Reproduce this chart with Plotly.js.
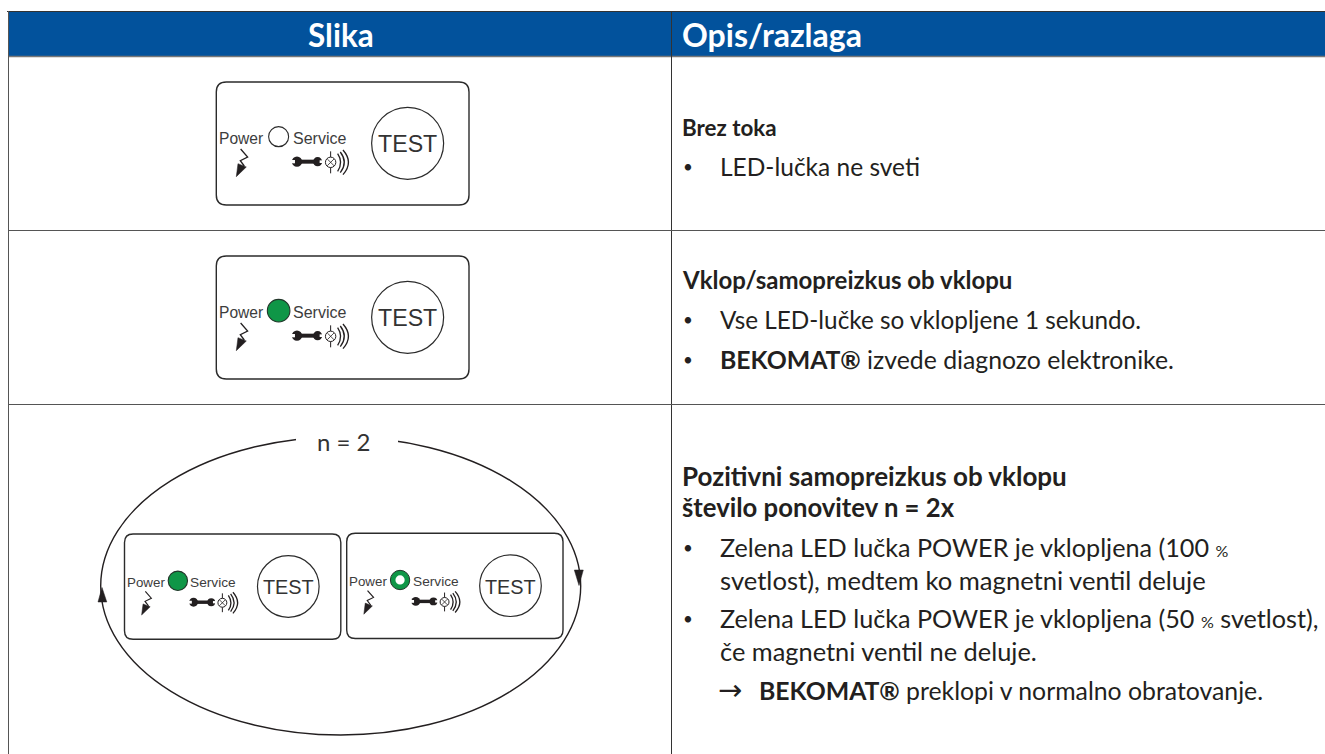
<!DOCTYPE html>
<html><head><meta charset="utf-8">
<script src="https://cdn.plot.ly/plotly-3.0.1.min.js"></script>
<style>html,body{margin:0;padding:0;background:#fff}#c{width:1325px;height:754px}</style>
</head><body><div id="c"></div>
<script>
const headerLabels = ['Slika', 'Opis/razlaga'];
const rowTitles = ['Brez toka', 'Vklop/samopreizkus ob vklopu', 'Pozitivni samopreizkus ob vklopu', 'število ponovitev n = 2x'];
const bulletLines = [
  'LED-lučka ne sveti',
  'Vse LED-lučke so vklopljene 1 sekundo.',
  '<b>BEKOMAT®</b> izvede diagnozo elektronike.',
  'Zelena LED lučka POWER je vklopljena (100 <span style="font-size:16px">%</span>',
  'svetlost), medtem ko magnetni ventil deluje',
  'Zelena LED lučka POWER je vklopljena (50 <span style="font-size:16px">%</span> svetlost),',
  'če magnetni ventil ne deluje.',
  '<b>BEKOMAT®</b> preklopi v normalno obratovanje.'
];
const panelLabels = ['Power', 'Service', 'TEST'];
const ledStates = ['off', 'on', 'on', 'half'];
const repeatLabel = 'n = 2';

const INK = '#231f20', BLUE = '#02529c', GREEN = '#0f9647', RULE = '#555555';
const BODY = 'Lato, "Noto Sans", sans-serif', DIAG = '"Liberation Sans", Arial, sans-serif';
const shapes = [], annotations = [];

function text(t, x, y, size, color, family, anchor) {
  annotations.push({text: t, x, y, xref: 'x', yref: 'y', showarrow: false, xanchor: anchor || 'left', yanchor: 'middle',
    borderpad: 0, borderwidth: 0, font: {size, color: color || INK, family: family || BODY}, align: 'left'});
}
function rect(x0, y0, x1, y1, fill) {
  shapes.push({type: 'rect', xref: 'x', yref: 'y', x0, y0, x1, y1, fillcolor: fill, line: {width: 0}});
}
function seg(x0, y0, x1, y1, color, w) {
  shapes.push({type: 'line', xref: 'x', yref: 'y', x0, y0, x1, y1, line: {color: color || RULE, width: w || 1}});
}
function circ(cx, cy, r, fill, color, w) {
  shapes.push({type: 'circle', xref: 'x', yref: 'y', x0: cx - r, x1: cx + r, y0: cy - r, y1: cy + r,
    fillcolor: fill, line: {color: color || INK, width: w === undefined ? 1 : w}});
}
function path(d, fill, color, w) {
  shapes.push({type: 'path', xref: 'x', yref: 'y', path: d, fillcolor: fill || 'rgba(0,0,0,0)', line: {color: color || INK, width: w === undefined ? 1 : w}});
}

function panel(ox, oy, s, state) {
  const u = zx => ox + (zx - 48) / 3 * s, v = zy => oy + (zy - 36) / 3 * s;
  const x0 = ox, y0 = oy, x1 = ox + 252.7 * s, y1 = oy + 123 * s, r = 10 * s;
  path(`M${x0 + r},${y0} L${x1 - r},${y0} Q${x1},${y0} ${x1},${y0 + r} L${x1},${y1 - r} Q${x1},${y1} ${x1 - r},${y1} L${x0 + r},${y1} Q${x0},${y1} ${x0},${y1 - r} L${x0},${y0 + r} Q${x0},${y0} ${x0 + r},${y0} Z`, '#ffffff', '#2b2b2b', 1.4);
  circ(u(622), v(220), 36 * s, '#ffffff', '#2b2b2b', 1.2);
  text(panelLabels[2], u(622), v(223), 23.2 * s, '#333333', DIAG, 'center');
  text(panelLabels[0], u(57), v(205), 15.6 * s, '#3d3d3d', DIAG);
  text(panelLabels[1], u(279), v(205), 16 * s, '#3d3d3d', DIAG);
  const lx = u(235), ly = v(200);
  if (state === 'off') circ(lx, ly, 10 * s, '#ffffff', '#2b2b2b', 1.1);
  if (state === 'on') circ(lx, ly, 11.3 * s, GREEN, '#23352a', 1.1);
  if (state === 'half') { circ(lx, ly, 11.3 * s, GREEN, '#23352a', 1); circ(lx, ly, 5.4 * s, '#ffffff', GREEN, 0); }
  // lightning bolt
  path(`M${u(121)},${v(237)} L${u(142)},${v(261)} L${u(120)},${v(272)} L${u(132)},${v(288)}`, null, INK, 1.3 * Math.max(s, .9));
  path(`M${u(108)},${v(320)} L${u(113)},${v(281)} L${u(138)},${v(291)} Z`, INK, INK, .5);
  // wrench
  rect(u(295), v(269), u(350), v(281), INK);
  circ(u(290), v(275), 5.2 * s, INK, INK, 0);
  circ(u(352), v(275), 4.6 * s, INK, INK, 0);
  rect(u(270), v(270), u(284), v(280), '#ffffff');
  rect(u(358), v(271), u(371), v(279), '#ffffff');
  // lamp
  circ(u(391), v(277), 5.2 * s, '#ffffff', INK, 1);
  seg(u(381), v(267), u(401), v(287), INK, .8);
  seg(u(401), v(267), u(381), v(287), INK, .8);
  seg(u(391), v(244), u(391), v(261), INK, 1);
  seg(u(391), v(293), u(391), v(310), INK, 1);
  // radio waves
  [[412, 251, 304, 424], [420, 246, 308, 436], [428, 240, 314, 450]].forEach(a => {
    path(`M${u(a[0])},${v(a[1])} Q${u(a[3] + (a[3] - a[0]) * .5)},${v((a[1] + a[2]) / 2)} ${u(a[0])},${v(a[2])}`, null, INK, 1.3);
  });
}

// table frame
rect(8, 11, 1325, 57, BLUE);
seg(7, 11.5, 1325, 11.5, '#333333', 1);
seg(8, 56.5, 1325, 56.5, '#777777', 1.5);
seg(8.5, 11, 8.5, 754, '#555555', 1);
seg(671.5, 11, 671.5, 754, '#333333', 1);
seg(8, 230.5, 1325, 230.5, RULE, 1);
seg(8, 404.5, 1325, 404.5, RULE, 1);
text('<b>' + headerLabels[0] + '</b>', 340.5, 34.5, 31.5, '#ffffff', BODY, 'center');
text('<b>' + headerLabels[1] + '</b>', 682, 34.5, 32, '#ffffff', BODY);

// repeat loop
shapes.push({type: 'circle', xref: 'x', yref: 'y', x0: 100.7, x1: 580.7, y0: 437, y1: 735, line: {color: INK, width: 1.4}, fillcolor: 'rgba(0,0,0,0)'});
rect(296, 428, 398, 446, '#ffffff');
path('M102,587.5 L98,602 L106.8,602 Z', INK, INK, .5);
path('M579,585.5 L574.3,570 L583.3,570 Z', INK, INK, .5);
text(repeatLabel, 343.5, 441, 24, '#333333', BODY, 'center');

// panels
panel(216.3, 82, 1, ledStates[0]);
panel(216.3, 256, 1, ledStates[1]);
panel(124.5, 534, .856, ledStates[2]);
panel(346.7, 533.2, .856, ledStates[3]);

// description text
const B = s => '<b>' + s + '</b>';
text(B(rowTitles[0]), 682, 127, 22.4);
text('•', 683, 166, 17); text(bulletLines[0], 720, 166, 24.5);
text(B(rowTitles[1]), 682, 279, 24);
text('•', 683, 319, 17); text(bulletLines[1], 720, 319, 24.3);
text('•', 683, 359, 17); text(bulletLines[2], 720, 359, 24.8);
text(B(rowTitles[2]), 682, 476, 26);
text(B(rowTitles[3]), 682, 507, 25.7);
text('•', 683, 547, 17); text(bulletLines[3], 720, 547, 25.2);
text(bulletLines[4], 720, 580, 25.6);
text('•', 683, 618, 17); text(bulletLines[5], 720, 618, 25.2);
text(bulletLines[6], 720, 651, 25.4);
text('→', 718, 690, 29, INK, '"DejaVu Sans"');
text(bulletLines[7], 759, 690, 24.8);

const axis = {visible: false, showgrid: false, zeroline: false, fixedrange: true};
Plotly.newPlot('c', [{type: 'scatter', mode: 'none', x: [0, 1325], y: [0, 754], hoverinfo: 'skip', showlegend: false}], {
  width: 1325, height: 754, margin: {l: 0, r: 0, t: 0, b: 0, pad: 0},
  paper_bgcolor: '#fff', plot_bgcolor: '#fff', showlegend: false,
  xaxis: Object.assign({range: [0, 1325]}, axis),
  yaxis: Object.assign({range: [754, 0]}, axis),
  shapes, annotations
}, {displayModeBar: false, staticPlot: true});
</script></body></html>
